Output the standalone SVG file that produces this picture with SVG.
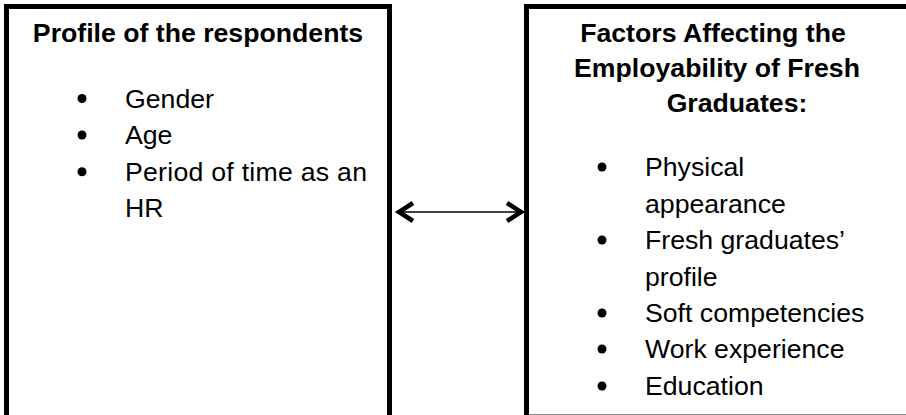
<svg xmlns="http://www.w3.org/2000/svg" width="906" height="415" viewBox="0 0 906 415">
<defs>
<style>
.box{fill:none;stroke:#000;stroke-width:5;}
.t{font-family:"Liberation Sans",Arial,sans-serif;font-size:26.67px;fill:#000;}
.b{font-weight:bold;text-anchor:middle;}
.dot{fill:#000;}
.conn{stroke:#000;stroke-width:1.3;fill:none;}
.head{stroke:#000;stroke-width:4.5;fill:none;stroke-linecap:butt;stroke-linejoin:miter;}
</style>
</defs>
<rect width="906" height="415" fill="#fff"/>
<g id="profile">
<path class="box" d="M6.5,440 V6.5 H389.5 V440"/>
<text class="t b" x="198" y="42">Profile of the respondents</text>
<circle class="dot" cx="82" cy="98.5" r="4.5"/>
<text class="t" x="125" y="107.5">Gender</text>
<circle class="dot" cx="82" cy="135" r="4.5"/>
<text class="t" x="125" y="144">Age</text>
<circle class="dot" cx="82" cy="171.7" r="4.5"/>
<text class="t" x="125" y="180.7" textLength="242">Period of time as an</text>
<text class="t" x="125" y="217.4">HR</text>
</g>
<g id="factors">
<path class="box" d="M526.5,440 V6.5 H920"/>
<line x1="529" y1="414.5" x2="906" y2="414.5" stroke="#888" stroke-width="1"/>
<text class="t b" x="713" y="42">Factors Affecting the</text>
<text class="t b" x="717" y="77">Employability of Fresh</text>
<text class="t b" x="737" y="112">Graduates:</text>
<circle class="dot" cx="602" cy="167" r="4.5"/>
<text class="t" x="645" y="176">Physical</text>
<text class="t" x="645" y="212.5">appearance</text>
<circle class="dot" cx="602" cy="240" r="4.5"/>
<text class="t" x="645" y="249">Fresh graduates’</text>
<text class="t" x="645" y="285.5">profile</text>
<circle class="dot" cx="602" cy="313" r="4.5"/>
<text class="t" x="645" y="322">Soft competencies</text>
<circle class="dot" cx="602" cy="349" r="4.5"/>
<text class="t" x="645" y="358">Work experience</text>
<circle class="dot" cx="602" cy="386" r="4.5"/>
<text class="t" x="645" y="395">Education</text>
</g>
<g id="connectors">
<line class="conn" x1="399" y1="212" x2="521" y2="212"/>
<polyline class="head" points="413,203 399,212 413,221"/>
<polyline class="head" points="507,203 521,212 507,221"/>
</g>
</svg>
